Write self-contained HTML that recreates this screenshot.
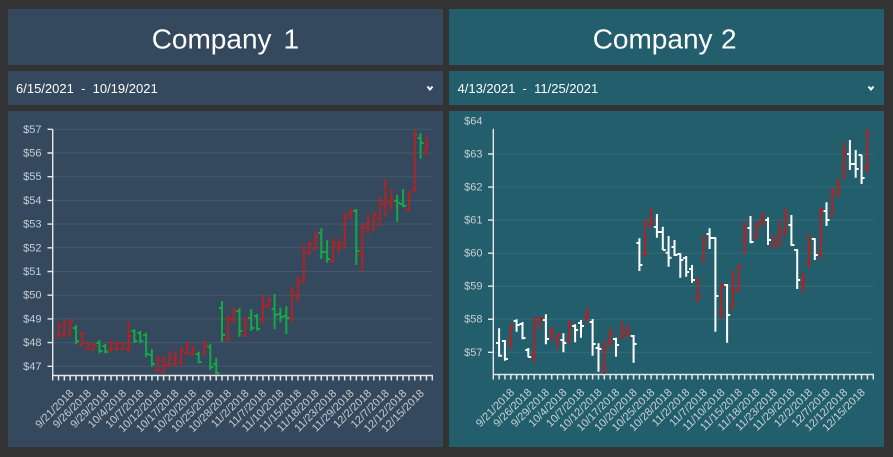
<!DOCTYPE html>
<html><head><meta charset="utf-8"><style>
html,body{margin:0;padding:0;background:#333333;}
svg{display:block;}
text{font-family:"Liberation Sans",Arial,sans-serif;}
</style></head><body>
<svg width="893" height="457" viewBox="0 0 893 457" xmlns="http://www.w3.org/2000/svg">
<rect x="0" y="0" width="893" height="457" fill="#333333"/>
<!-- Left panel -->
<rect x="8" y="9" width="435" height="56" fill="#34495e"/>
<rect x="8" y="71" width="435" height="34" fill="#34495e"/>
<rect x="8" y="111" width="435" height="336" fill="#34495e"/>
<!-- Right panel -->
<rect x="449" y="9" width="435" height="56" fill="#235e6c"/>
<rect x="449" y="71" width="435" height="34" fill="#235e6c"/>
<rect x="449" y="111" width="435" height="336" fill="#235e6c"/>

<text x="151.7" y="48.3" font-size="28" fill="#ffffff">Company</text>
<text x="283.5" y="48.3" font-size="28" fill="#ffffff">1</text>
<text x="592.7" y="48.3" font-size="28" fill="#ffffff">Company</text>
<text x="721" y="48.3" font-size="28" fill="#ffffff">2</text>

<text x="16" y="93" font-size="13" fill="#ffffff" xml:space="preserve">6/15/2021  -  10/19/2021</text>
<text x="457.5" y="93" font-size="13" fill="#ffffff" xml:space="preserve">4/13/2021  -  11/25/2021</text>
<polyline points="427.5,86.5 430,89.5 432.5,86.5" fill="none" stroke="#ffffff" stroke-width="2"/>
<polyline points="868.5,86.5 871,89.5 873.5,86.5" fill="none" stroke="#ffffff" stroke-width="2"/>

<!-- LEFT CHART grid -->
<g stroke="rgba(255,255,255,0.09)" stroke-width="1">
<line x1="52.7" x2="432.3" y1="129.3" y2="129.3"/>
<line x1="52.7" x2="432.3" y1="153" y2="153"/>
<line x1="52.7" x2="432.3" y1="176.7" y2="176.7"/>
<line x1="52.7" x2="432.3" y1="200.4" y2="200.4"/>
<line x1="52.7" x2="432.3" y1="224.1" y2="224.1"/>
<line x1="52.7" x2="432.3" y1="247.8" y2="247.8"/>
<line x1="52.7" x2="432.3" y1="271.5" y2="271.5"/>
<line x1="52.7" x2="432.3" y1="295.2" y2="295.2"/>
<line x1="52.7" x2="432.3" y1="318.9" y2="318.9"/>
<line x1="52.7" x2="432.3" y1="342.6" y2="342.6"/>
<line x1="52.7" x2="432.3" y1="366.3" y2="366.3"/>
</g>
<g font-size="11" fill="#c9cdd2" text-anchor="end">
<text x="41.5" y="132.8">$57</text>
<text x="41.5" y="156.5">$56</text>
<text x="41.5" y="180.2">$55</text>
<text x="41.5" y="203.9">$54</text>
<text x="41.5" y="227.6">$53</text>
<text x="41.5" y="251.3">$52</text>
<text x="41.5" y="275">$51</text>
<text x="41.5" y="298.7">$50</text>
<text x="41.5" y="322.4">$49</text>
<text x="41.5" y="346.1">$48</text>
<text x="41.5" y="369.8">$47</text>
</g>
<g stroke="#e6e6e6" stroke-width="1.4" fill="none">
<path d="M52.7 129.3V375.5H432.3V380.5M52.7 375V380.5"/>
<path d="M47.5 129.3H52.7M47.5 153H52.7M47.5 176.7H52.7M47.5 200.4H52.7M47.5 224.1H52.7M47.5 247.8H52.7M47.5 271.5H52.7M47.5 295.2H52.7M47.5 318.9H52.7M47.5 342.6H52.7M47.5 366.3H52.7"/>
</g>
<line x1="57.75" x2="430" y1="378" y2="378" stroke="#e6e6e6" stroke-width="5" stroke-dasharray="1.5 4.34"/>
<rect x="50" y="375.8" width="385" height="0.01" fill="none"/>

<!-- LEFT bars -->
<g fill="none" stroke-width="2">
<g stroke="#b32222">
<path d="M58.5 321.7V338.3M55.5 336H58.5M58.5 326H61.5"/>
<path d="M64.3 320V338.3M61.3 335H64.3M64.3 323H67.3"/>
<path d="M70.2 319V335M67.2 334H70.2M70.2 321H73.2"/>
<path d="M81.9 331.7V346.7M78.9 345H81.9M81.9 333H84.9"/>
<path d="M87.7 341V350M84.7 349H87.7M87.7 344H90.7"/>
<path d="M93.5 343.3V350.7M90.5 349H93.5M93.5 346H96.5"/>
<path d="M111.1 340V351.7M108.1 350H111.1M111.1 343H114.1"/>
<path d="M116.9 341V351M113.9 349H116.9M116.9 343H119.9"/>
<path d="M122.7 342.7V350M119.7 348H122.7M122.7 344H125.7"/>
<path d="M128.6 322V353.3M125.6 349H128.6M128.6 336H131.6"/>
<path d="M157.8 355.7V371.7M154.8 370H157.8M157.8 360H160.8"/>
<path d="M163.6 355.7V374M160.6 372H163.6M163.6 365H166.6"/>
<path d="M169.5 351.7V366.7M166.5 365H169.5M169.5 358H172.5"/>
<path d="M175.3 350.7V365.7M172.3 364H175.3M175.3 358H178.3"/>
<path d="M181.1 347.3V365.7M178.1 363H181.1M181.1 351H184.1"/>
<path d="M187 341.7V355M184 353H187M187 345H190"/>
<path d="M192.8 346V355.7M189.8 354H192.8M192.8 348H195.8"/>
<path d="M204.5 340V355M201.5 354H204.5M204.5 345H207.5"/>
<path d="M227.9 315V341.7M224.9 339H227.9M227.9 318H230.9"/>
<path d="M233.7 307.3V322.7M230.7 320H233.7M233.7 310H236.7"/>
<path d="M245.4 316.7V337.3M242.4 335H245.4M245.4 319H248.4"/>
<path d="M262.9 295V322.7M259.9 320H262.9M262.9 306H265.9"/>
<path d="M268.7 297.3V307.7M265.7 306H268.7M268.7 300H271.7"/>
<path d="M292.1 286.7V322.3M289.1 319H292.1M292.1 292H295.1"/>
<path d="M297.9 276V301.7M294.9 298H297.9M297.9 281H300.9"/>
<path d="M303.8 244V282.7M300.8 282H303.8M303.8 252H306.8"/>
<path d="M309.6 240.3V254.3M306.6 253H309.6M309.6 244H312.6"/>
<path d="M315.5 231V250M312.5 249H315.5M315.5 236H318.5"/>
<path d="M333 238.3V262.7M330 261H333M333 243H336"/>
<path d="M338.8 238.3V252.7M335.8 248H338.8M338.8 244H341.8"/>
<path d="M344.7 213.3V247.7M341.7 247H344.7M344.7 218H347.7"/>
<path d="M350.5 208.7V219.7M347.5 213H350.5M350.5 211H353.5"/>
<path d="M362.2 224.3V270.7M359.2 255H362.2M362.2 228H365.2"/>
<path d="M368 214V234.3M365 227H368M368 222H371"/>
<path d="M373.9 212.3V230.7M370.9 228H373.9M373.9 215H376.9"/>
<path d="M379.7 197V226.7M376.7 219H379.7M379.7 203H382.7"/>
<path d="M385.5 179V216.7M382.5 205H385.5M385.5 201H388.5"/>
<path d="M391.4 189V210.7M388.4 203H391.4M391.4 200H394.4"/>
<path d="M408.9 190.3V211.7M405.9 209H408.9M408.9 196H411.9"/>
<path d="M414.7 130V191.7M411.7 189H414.7M414.7 135H417.7"/>
<path d="M426.4 136V156.7M423.4 150H426.4M426.4 144H429.4"/>
</g>
<g stroke="#14a846">
<path d="M76 325V344.3M73 328H76M76 341H79"/>
<path d="M99.4 340V353.3M96.4 343H99.4M99.4 351H102.4"/>
<path d="M105.2 344V353.3M102.2 346H105.2M105.2 352H108.2"/>
<path d="M134.4 329.3V342.7M131.4 331H134.4M134.4 341H137.4"/>
<path d="M140.3 331V343.3M137.3 333H140.3M140.3 341H143.3"/>
<path d="M146.1 332.7V357.3M143.1 335H146.1M146.1 354H149.1"/>
<path d="M151.9 349V366.7M148.9 355H151.9M151.9 364H154.9"/>
<path d="M198.7 351.7V363.3M195.7 354H198.7M198.7 362H201.7"/>
<path d="M210.3 344V370M207.3 347H210.3M210.3 367H213.3"/>
<path d="M216.2 357.7V374.3M213.2 364H216.2M216.2 373H219.2"/>
<path d="M222 301V341.7M219 308H222M222 335H225"/>
<path d="M239.5 308V336.7M236.5 311H239.5M239.5 331H242.5"/>
<path d="M251.2 309V331M248.2 318H251.2M251.2 328H254.2"/>
<path d="M257.1 314V330.7M254.1 316H257.1M257.1 329H260.1"/>
<path d="M274.6 294V329M271.6 309H274.6M274.6 315H277.6"/>
<path d="M280.4 307.7V322.3M277.4 314H280.4M280.4 317H283.4"/>
<path d="M286.3 306V334M283.3 316H286.3M286.3 318H289.3"/>
<path d="M321.3 228.3V259M318.3 233H321.3M321.3 252H324.3"/>
<path d="M327.1 240.3V262.7M324.1 252H327.1M327.1 259H330.1"/>
<path d="M356.3 209V265M353.3 211H356.3M356.3 251H359.3"/>
<path d="M397.2 195V221.7M394.2 201H397.2M397.2 203H400.2"/>
<path d="M403.1 189V207.3M400.1 204H403.1M403.1 206H406.1"/>
<path d="M420.6 133V158.7M417.6 138H420.6M420.6 143H423.6"/>
</g>
</g>

<!-- LEFT x labels -->
<g font-size="11" fill="#c9cdd2" text-anchor="end">
<text transform="translate(74.3,394) rotate(-45)">9/21/2018</text>
<text transform="translate(91.8,394) rotate(-45)">9/26/2018</text>
<text transform="translate(109.3,394) rotate(-45)">9/29/2018</text>
<text transform="translate(126.9,394) rotate(-45)">10/4/2018</text>
<text transform="translate(144.4,394) rotate(-45)">10/7/2018</text>
<text transform="translate(161.9,394) rotate(-45)">10/12/2018</text>
<text transform="translate(179.4,394) rotate(-45)">10/17/2018</text>
<text transform="translate(196.9,394) rotate(-45)">10/20/2018</text>
<text transform="translate(214.5,394) rotate(-45)">10/25/2018</text>
<text transform="translate(232,394) rotate(-45)">10/28/2018</text>
<text transform="translate(249.5,394) rotate(-45)">11/2/2018</text>
<text transform="translate(267,394) rotate(-45)">11/7/2018</text>
<text transform="translate(284.5,394) rotate(-45)">11/10/2018</text>
<text transform="translate(302.1,394) rotate(-45)">11/15/2018</text>
<text transform="translate(319.6,394) rotate(-45)">11/18/2018</text>
<text transform="translate(337.1,394) rotate(-45)">11/23/2018</text>
<text transform="translate(354.6,394) rotate(-45)">11/29/2018</text>
<text transform="translate(372.1,394) rotate(-45)">12/2/2018</text>
<text transform="translate(389.7,394) rotate(-45)">12/7/2018</text>
<text transform="translate(407.2,394) rotate(-45)">12/12/2018</text>
<text transform="translate(424.7,394) rotate(-45)">12/15/2018</text>
</g>

<!-- RIGHT CHART grid -->
<g stroke="rgba(255,255,255,0.09)" stroke-width="1">
<line x1="493.3" x2="873.3" y1="154" y2="154"/>
<line x1="493.3" x2="873.3" y1="187.05" y2="187.05"/>
<line x1="493.3" x2="873.3" y1="220.1" y2="220.1"/>
<line x1="493.3" x2="873.3" y1="253.15" y2="253.15"/>
<line x1="493.3" x2="873.3" y1="286.2" y2="286.2"/>
<line x1="493.3" x2="873.3" y1="319.25" y2="319.25"/>
<line x1="493.3" x2="873.3" y1="352.3" y2="352.3"/>
</g>
<g font-size="11" fill="#c9cdd2" text-anchor="end">
<text x="482.5" y="124.7">$64</text>
<text x="482.5" y="157.5">$63</text>
<text x="482.5" y="190.5">$62</text>
<text x="482.5" y="223.6">$61</text>
<text x="482.5" y="256.6">$60</text>
<text x="482.5" y="289.7">$59</text>
<text x="482.5" y="322.7">$58</text>
<text x="482.5" y="355.8">$57</text>
</g>
<g stroke="#e6e6e6" stroke-width="1.4" fill="none">
<path d="M493.3 128.7V374.5H873.3V379.5M493.3 374V379.5"/>
<path d="M488 154H493.3M488 187.05H493.3M488 220.1H493.3M488 253.15H493.3M488 286.2H493.3M488 319.25H493.3M488 352.3H493.3"/>
</g>
<line x1="498.35" x2="871" y1="377" y2="377" stroke="#e6e6e6" stroke-width="5" stroke-dasharray="1.5 4.346"/>

<!-- RIGHT bars -->
<g fill="none" stroke-width="2">
<g stroke="#ffffff">
<path d="M499.1 328.3V356.7M496.1 343H499.1M499.1 355.7H502.1"/>
<path d="M504.9 340V360.7M501.9 341H504.9M504.9 359H507.9"/>
<path d="M516.6 319.3V331.7M513.6 321H516.6M516.6 325H519.6"/>
<path d="M522.5 322V339.3M519.5 324H522.5M522.5 338H525.5"/>
<path d="M528.3 348V357.3M525.3 350H528.3M528.3 357H531.3"/>
<path d="M545.9 314.3V344.3M542.9 320H545.9M545.9 339H548.9"/>
<path d="M563.4 333.3V352.3M560.4 340H563.4M563.4 343H566.4"/>
<path d="M575.1 324.3V342.3M572.1 326H575.1M575.1 330H578.1"/>
<path d="M581 320V337.7M578 323H581M581 326H584"/>
<path d="M592.6 319V355.7M589.6 322H592.6M592.6 344H595.6"/>
<path d="M598.5 343.3V371.7M595.5 348H598.5M598.5 349H601.5"/>
<path d="M616 337.7V356.7M613 339H616M616 345H619"/>
<path d="M633.6 335V362.7M630.6 336H633.6M633.6 344H636.6"/>
<path d="M639.4 238.3V271M636.4 243H639.4M639.4 265H642.4"/>
<path d="M656.9 214V237.7M653.9 227H656.9M656.9 232H659.9"/>
<path d="M662.8 226.7V250M659.8 232H662.8M662.8 250H665.8"/>
<path d="M668.6 236V266.7M665.6 252.7H668.6M668.6 257.7H671.6"/>
<path d="M674.5 240V256M671.5 247H674.5M674.5 255H677.5"/>
<path d="M680.3 253.3V277.7M677.3 254H680.3M680.3 260H683.3"/>
<path d="M686.2 256V276.7M683.2 258H686.2M686.2 272H689.2"/>
<path d="M692 265V282.7M689 269H692M692 280H695"/>
<path d="M709.6 228.3V249M706.6 234H709.6M709.6 238H712.6"/>
<path d="M715.4 237.3V331.7M712.4 238H715.4M715.4 296H718.4"/>
<path d="M727.1 284V342.7M724.1 285H727.1M727.1 315H730.1"/>
<path d="M750.5 216V243.3M747.5 228H750.5M750.5 242H753.5"/>
<path d="M768 217.3V245M765 220H768M768 240H771"/>
<path d="M791.4 215V245.7M788.4 225H791.4M791.4 245H794.4"/>
<path d="M797.2 249.3V289M794.2 250H797.2M797.2 280H800.2"/>
<path d="M814.8 238.3V260M811.8 239H814.8M814.8 255H817.8"/>
<path d="M826.5 202.3V226M823.5 211H826.5M826.5 220H829.5"/>
<path d="M849.9 140V170M846.9 154H849.9M849.9 164H852.9"/>
<path d="M855.7 150V177.7M852.7 164H855.7M855.7 169H858.7"/>
<path d="M861.6 155V184M858.6 155H861.6M861.6 178H864.6"/>
</g>
<g stroke="#b32222">
<path d="M510.8 324.3V349.3M507.8 340H510.8M510.8 326H513.8"/>
<path d="M534.2 317.7V362.7M531.2 356H534.2M534.2 318H537.2"/>
<path d="M540 317.3V329M537 323H540M540 319H543"/>
<path d="M551.7 327.3V340.7M548.7 334H551.7M551.7 330H554.7"/>
<path d="M557.6 334V349.3M554.6 339H557.6M557.6 335H560.6"/>
<path d="M569.3 321V343.3M566.3 342H569.3M569.3 322H572.3"/>
<path d="M586.8 307.3V323.3M583.8 318H586.8M586.8 313H589.8"/>
<path d="M604.3 341.7V374M601.3 368H604.3M604.3 348H607.3"/>
<path d="M610.2 327.7V347.7M607.2 341H610.2M610.2 334H613.2"/>
<path d="M621.9 321V339M618.9 336H621.9M621.9 329H624.9"/>
<path d="M627.7 325V338.3M624.7 335H627.7M627.7 331H630.7"/>
<path d="M645.3 220V256.7M642.3 255H645.3M645.3 221H648.3"/>
<path d="M651.1 207.7V226.7M648.1 226H651.1M651.1 220H654.1"/>
<path d="M697.9 277.3V301.7M694.9 300H697.9M697.9 296H700.9"/>
<path d="M703.7 236V261.7M700.7 260H703.7M703.7 240H706.7"/>
<path d="M721.3 283.3V319M718.3 312H721.3M721.3 286H724.3"/>
<path d="M732.9 270V309.3M729.9 308H732.9M732.9 290H735.9"/>
<path d="M738.8 264.3V292.7M735.8 288H738.8M738.8 266H741.8"/>
<path d="M744.6 221.7V255M741.6 240H744.6M744.6 232H747.6"/>
<path d="M756.3 221.7V239.3M753.3 237H756.3M756.3 227H759.3"/>
<path d="M762.2 211.7V226.7M759.2 222H762.2M762.2 220H765.2"/>
<path d="M773.9 235.7V249M770.9 245H773.9M773.9 237H776.9"/>
<path d="M779.7 220V246.7M776.7 243H779.7M779.7 232H782.7"/>
<path d="M785.6 207.7V235.7M782.6 234H785.6M785.6 218H788.6"/>
<path d="M803.1 271.7V292.7M800.1 284H803.1M803.1 281H806.1"/>
<path d="M808.9 234V267.7M805.9 263H808.9M808.9 246H811.9"/>
<path d="M820.6 207.7V259.3M817.6 253H820.6M820.6 210H823.6"/>
<path d="M832.3 188.3V216.7M829.3 215H832.3M832.3 189H835.3"/>
<path d="M838.2 178.3V196.7M835.2 194H838.2M838.2 186H841.2"/>
<path d="M844 141.7V179.3M841 170H844M844 154H847"/>
<path d="M867.4 129.3V173.3M864.4 168H867.4M867.4 134H870.4"/>
</g>
</g>

<!-- RIGHT x labels -->
<g font-size="11" fill="#c9d3d6" text-anchor="end">
<text transform="translate(514.9,393) rotate(-45)">9/21/2018</text>
<text transform="translate(532.4,393) rotate(-45)">9/26/2018</text>
<text transform="translate(550,393) rotate(-45)">9/29/2018</text>
<text transform="translate(567.5,393) rotate(-45)">10/4/2018</text>
<text transform="translate(585.1,393) rotate(-45)">10/7/2018</text>
<text transform="translate(602.6,393) rotate(-45)">10/12/2018</text>
<text transform="translate(620.1,393) rotate(-45)">10/17/2018</text>
<text transform="translate(637.7,393) rotate(-45)">10/20/2018</text>
<text transform="translate(655.2,393) rotate(-45)">10/25/2018</text>
<text transform="translate(672.7,393) rotate(-45)">10/28/2018</text>
<text transform="translate(690.3,393) rotate(-45)">11/2/2018</text>
<text transform="translate(707.8,393) rotate(-45)">11/7/2018</text>
<text transform="translate(725.4,393) rotate(-45)">11/10/2018</text>
<text transform="translate(742.9,393) rotate(-45)">11/15/2018</text>
<text transform="translate(760.4,393) rotate(-45)">11/18/2018</text>
<text transform="translate(778,393) rotate(-45)">11/23/2018</text>
<text transform="translate(795.5,393) rotate(-45)">11/29/2018</text>
<text transform="translate(813,393) rotate(-45)">12/2/2018</text>
<text transform="translate(830.6,393) rotate(-45)">12/7/2018</text>
<text transform="translate(848.1,393) rotate(-45)">12/12/2018</text>
<text transform="translate(865.7,393) rotate(-45)">12/15/2018</text>
</g>
</svg>
</body></html>
